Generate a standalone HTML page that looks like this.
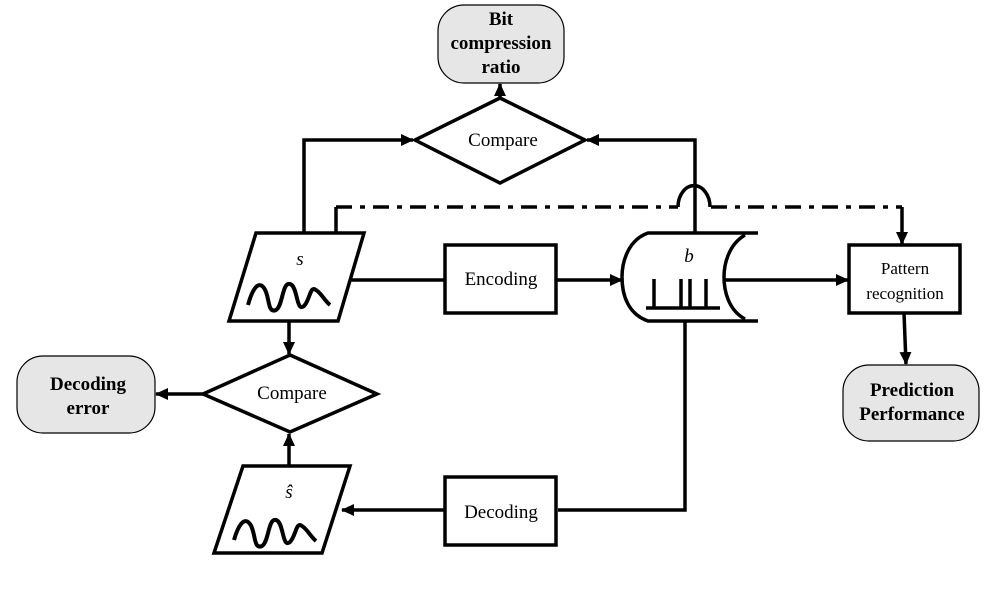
<!DOCTYPE html>
<html><head><meta charset="utf-8"><style>body{margin:0;background:#fff}svg{display:block}text{font-family:"Liberation Serif",serif}</style></head>
<body>
<svg width="999" height="595" viewBox="0 0 999 595" xmlns="http://www.w3.org/2000/svg">
<defs>
<marker id="a" markerWidth="13" markerHeight="12" refX="12" refY="6" orient="auto" markerUnits="userSpaceOnUse"><path d="M0,0 L13,6 L0,12 z" fill="#000"/></marker>
</defs>
<g fill="none" stroke="#000" stroke-width="3.5">
<rect x="438" y="5" width="126" height="78" rx="26" fill="#e6e6e6" stroke-width="1.2"/>
<rect x="17" y="356" width="138" height="77" rx="26" fill="#e6e6e6" stroke-width="1.2"/>
<rect x="843" y="365" width="136" height="76" rx="26" fill="#e6e6e6" stroke-width="1.2"/>
<polygon points="500,98 585,140 500,183 415,140" fill="#fff"/>
<polygon points="290,355 377,394 290,432 203,394" fill="#fff"/>
<rect x="445" y="245" width="111" height="68"/>
<rect x="445" y="477" width="111" height="68"/>
<rect x="849" y="245" width="111" height="68"/>
<polygon points="256,233 364,233 338,321 229,321"/>
<polygon points="243,466 350,466 322,553 214,553"/>
<path d="M248,305 C252,290 258,280 264,288 C270,296 267,314 276,310 C283,306 282,282 290,284 C298,286 296,313 304,306 C310,300 310,285 316,290 C322,294 324,300 330,305" stroke-width="4"/>
<path d="M234,540 C238,526 244,516 250,524 C256,532 253,550 262,546 C269,542 268,518 276,520 C284,522 282,549 290,542 C296,536 296,521 302,526 C308,530 310,536 316,541" stroke-width="4"/>
<path d="M758,233 L648,233 C628,240 622,262 622,277 C622,295 628,314 648,321 L758,321"/>
<path d="M745,235 C728,245 724,265 724,277 C724,290 728,310 745,319"/>
<path d="M646,308 L720,308 M654,308 V279 M681,308 V279 M690,308 V279 M706,308 V279"/>
<path d="M304,233 V140 H413" marker-end="url(#a)"/>
<path d="M695,233 V140 H587" marker-end="url(#a)"/>
<path d="M500,98 V84" marker-end="url(#a)"/>
<path d="M350,280 H445"/>
<path d="M556,280 H622" marker-end="url(#a)"/>
<path d="M724,280 H848" marker-end="url(#a)"/>
<path d="M904,313 L906,364" marker-end="url(#a)"/>
<path d="M685,321 V510 H558"/>
<path d="M445,510 H342" marker-end="url(#a)"/>
<path d="M289,466 V434" marker-end="url(#a)"/>
<path d="M289,321 V354" marker-end="url(#a)"/>
<path d="M203,394 H156" marker-end="url(#a)"/>
<path d="M336,233 V207"/>
<path d="M336,207 H678 M711,207 H902" stroke-dasharray="16,8,5,8"/>
<path d="M678,207 A15,20 0 0 1 710,207"/>
<path d="M902,207 V244" marker-end="url(#a)"/>
</g>
<g font-size="19" text-anchor="middle" fill="#000">
<text x="503" y="146">Compare</text>
<text x="292" y="399">Compare</text>
<text x="501" y="285">Encoding</text>
<text x="501" y="518">Decoding</text>
<text x="905" y="274" font-size="17">Pattern</text>
<text x="905" y="299" font-size="17">recognition</text>
<text x="300" y="265" font-style="italic">s</text>
<text x="289" y="498" font-style="italic">ŝ</text>
<text x="689" y="262" font-style="italic">b</text>
<g font-weight="bold">
<text x="501" y="25">Bit</text>
<text x="501" y="49">compression</text>
<text x="501" y="73">ratio</text>
<text x="88" y="390">Decoding</text>
<text x="88" y="414">error</text>
<text x="912" y="396">Prediction</text>
<text x="912" y="420">Performance</text>
</g>
</g>
</svg>
</body></html>
